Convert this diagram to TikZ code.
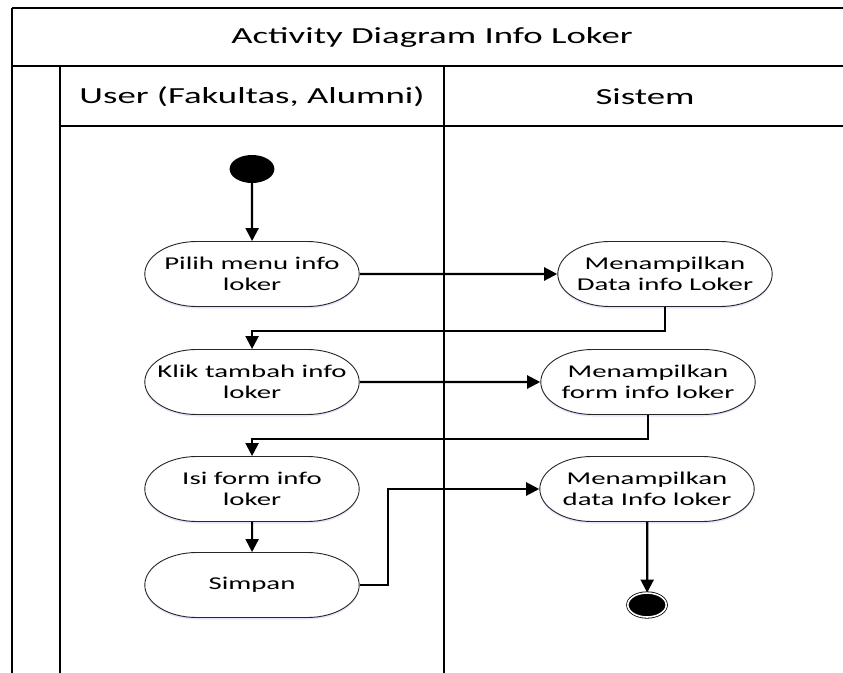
\documentclass[tikz,border=0pt]{standalone}
\usepackage{fontspec}
\setmainfont{Carlito}
\usetikzlibrary{arrows.meta,shadows,shapes.misc}

\tikzset{
	act/.style={rounded rectangle, draw=black!85, line width=0.9pt, fill=white,
		transform shape, minimum width=82pt, minimum height=65pt, inner xsep=-26pt, inner ysep=0pt,
		align=center, font=\fontsize{18}{21}\selectfont,
		drop shadow={shadow xshift=0pt, shadow yshift=-2pt, fill=blue!30, opacity=.35}},
	startnode/.style={circle, fill=black, transform shape, minimum size=28pt, inner sep=0pt},
	endnode/.style={circle, fill=black, draw=black, line width=0.8pt, double=white,
		double distance=1.6pt, transform shape, minimum size=24pt, inner sep=0pt},
	flow/.style={line width=2.2pt, -{Triangle[length=13pt,width=13pt]}},
	lane/.style={line width=2pt},
	lanetext/.style={font=\fontsize{23}{27}\selectfont, transform shape}
}

\begin{document}
\begin{tikzpicture}[x=0.625pt, y=-1pt, xscale=1.6]
	% Canvas
	\useasboundingbox (0,0) rectangle (843,672);
	\clip (0,0) rectangle (843,672);

	% Draw swimlane frame
	\draw[lane] (12,8) -- (860,8);
	\draw[lane] (12,8) -- (12,690);
	\draw[lane] (12,66) -- (860,66);
	\draw[lane] (60,66) -- (60,690);
	\draw[lane] (444,66) -- (444,690);
	\draw[lane] (60,126) -- (860,126);

	% Titles
	\node[lanetext] (judul) at (432,37) {Activity Diagram Info Loker};
	\node[lanetext] (laneuser) at (252,97) {User (Fakultas, Alumni)};
	\node[lanetext] (lanesistem) at (645,97) {Sistem};

	% Activities
	\node[startnode] (start) at (252,169) {};
	\node[act] (pilih) at (252,274) {Pilih menu info\\loker};
	\node[act] (tampildata) at (665,274) {Menampilkan\\Data info Loker};
	\node[act] (klik) at (252,382) {Klik tambah info\\loker};
	\node[act] (tampilform) at (648,382) {Menampilkan\\form info loker};
	\node[act] (isi) at (252,489) {Isi form info\\loker};
	\node[act] (simpan) at (252,585) {Simpan};
	\node[act] (tampilinfo) at (647,489) {Menampilkan\\data Info loker};
	\node[endnode] (selesai) at (647,605) {};

	% Flows
	\draw[flow] (start) -- (pilih);
	\draw[flow] (pilih) -- (tampildata);
	\draw[flow] (tampildata.south) -- ++(0,24) -| (klik.north);
	\draw[flow] (klik) -- (tampilform);
	\draw[flow] (tampilform.south) -- ++(0,24) -| (isi.north);
	\draw[flow] (isi) -- (simpan);
	\draw[flow] (simpan.east) -- ++(28,0) |- (tampilinfo.west);
	\draw[flow] (tampilinfo) -- (selesai);

\end{tikzpicture}
\end{document}
